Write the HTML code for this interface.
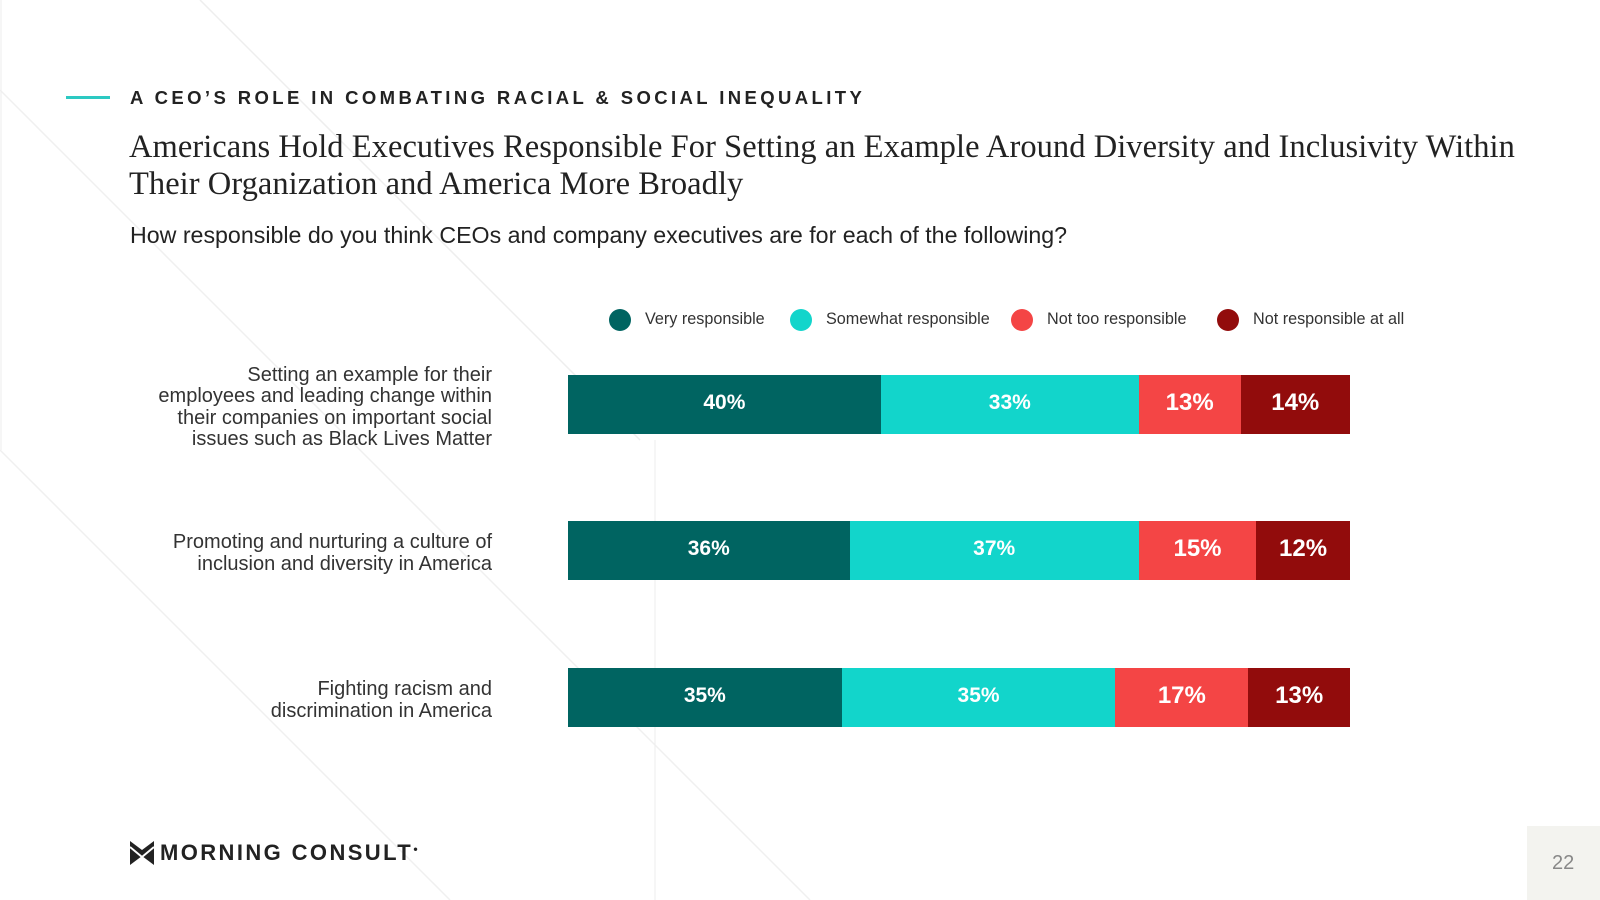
<!DOCTYPE html>
<html><head><meta charset="utf-8"><style>
body{margin:0;width:1600px;height:900px;background:#fff;position:relative;overflow:hidden;font-family:"Liberation Sans",sans-serif}
.abs{position:absolute}
.rl{position:absolute;right:1108px;text-align:right;font-size:20px;line-height:21.5px;color:#333;white-space:nowrap}
.lg{position:absolute;top:310px;font-size:16.2px;color:#333}
.dot{position:absolute;top:309px;width:22px;height:22px;border-radius:50%}
</style></head><body>
<svg class="abs" style="left:0;top:0" width="1600" height="900">
<line x1="200" y1="0" x2="640" y2="440" stroke="#eee" stroke-width="1.5"/>
<line x1="0" y1="90" x2="810" y2="900" stroke="#f0f0f0" stroke-width="1.5"/>
<line x1="0" y1="450" x2="450" y2="900" stroke="#f0f0f0" stroke-width="1.5"/>
<line x1="655" y1="440" x2="655" y2="900" stroke="#eee" stroke-width="1"/>
<line x1="1" y1="0" x2="1" y2="450" stroke="#eee" stroke-width="1"/>
</svg>
<div class="abs" style="left:66px;top:96px;width:44px;height:3px;background:#2cc9c2"></div>
<div class="abs" style="left:130px;top:87px;font-size:18.5px;font-weight:bold;letter-spacing:3.4px;color:#222">A CEO’S ROLE IN COMBATING RACIAL &amp; SOCIAL INEQUALITY</div>
<div class="abs" style="left:129px;top:129px;font-family:'Liberation Serif',serif;font-size:32.5px;letter-spacing:0.05px;line-height:37px;color:#222;width:1420px">Americans Hold Executives Responsible For Setting an Example Around Diversity and Inclusivity Within Their Organization and America More Broadly</div>
<div class="abs" style="left:130px;top:222px;font-size:23.2px;color:#222">How responsible do you think CEOs and company executives are for each of the following?</div>
<div id="legend"></div>
<div id="chart"></div>
<div class="abs" style="left:130px;top:840px;display:flex;align-items:center">
<svg width="24" height="24"><path d="M0 0 L12 9 L24 0 L24 24 L12 15 L0 24 Z" fill="#222"/><path d="M0 6 L12 16 L24 6" stroke="#fff" stroke-width="2" fill="none"/></svg>
<span style="margin-left:6px;font-size:22px;font-weight:900;letter-spacing:2.4px;color:#222">MORNING CONSULT<sup style="font-size:8px">●</sup></span></div>
<div class="abs" style="left:1527px;top:826px;width:73px;height:74px;background:#f3f3ef"></div>
<div class="abs" style="left:1552px;top:852px;font-size:20px;color:#888">22</div>
<script>
const categories=["Setting an example for their<br>employees and leading change within<br>their companies on important social<br>issues such as Black Lives Matter","Promoting and nurturing a culture of<br>inclusion and diversity in America","Fighting racism and<br>discrimination in America"];
const seriesNames=["Very responsible","Somewhat responsible","Not too responsible","Not responsible at all"];
const very=[40,36,35];
const somewhat=[33,37,35];
const notToo=[13,15,17];
const notAtAll=[14,12,13];
const colors=["#006461","#12d5cb","#f44545","#920c0c"];
const series=[very,somewhat,notToo,notAtAll];
const x0=568,scale=7.82,rowTop=[375,521,668],barH=59;
const chart=document.getElementById('chart');
function xs(v){return v*scale;}
categories.forEach((c,i)=>{
  const lab=document.createElement('div');lab.className='rl';lab.innerHTML=c;
  
  
  const lines=c.split('<br>').length;
  lab.style.top=(rowTop[i]+barH/2-lines*21.5/2+3)+'px';
  chart.appendChild(lab);
  let acc=0;
  series.forEach((s,k)=>{
    const b=document.createElement('div');
    
    
    b.style.cssText=`position:absolute;left:${x0+xs(acc)}px;top:${rowTop[i]}px;width:${xs(s[i])}px;height:${barH}px;background:${colors[k]};color:#fff;font-weight:bold;font-size:${k>1?24:21}px;display:flex;align-items:center;justify-content:center;padding-bottom:4px;box-sizing:border-box`;
    b.textContent=s[i]+'%';
    chart.appendChild(b);acc+=s[i];
  });
});
const lg=document.getElementById('legend');
const lx=[609,790,1011,1217];
seriesNames.forEach((n,k)=>{
  const d=document.createElement('div');d.className='dot';d.style.left=lx[k]+'px';d.style.background=colors[k];
  
  
  lg.appendChild(d);
  const t=document.createElement('div');t.className='lg';t.style.left=(lx[k]+36)+'px';t.textContent=n;
  
  
  lg.appendChild(t);
});
</script>
</body></html>
